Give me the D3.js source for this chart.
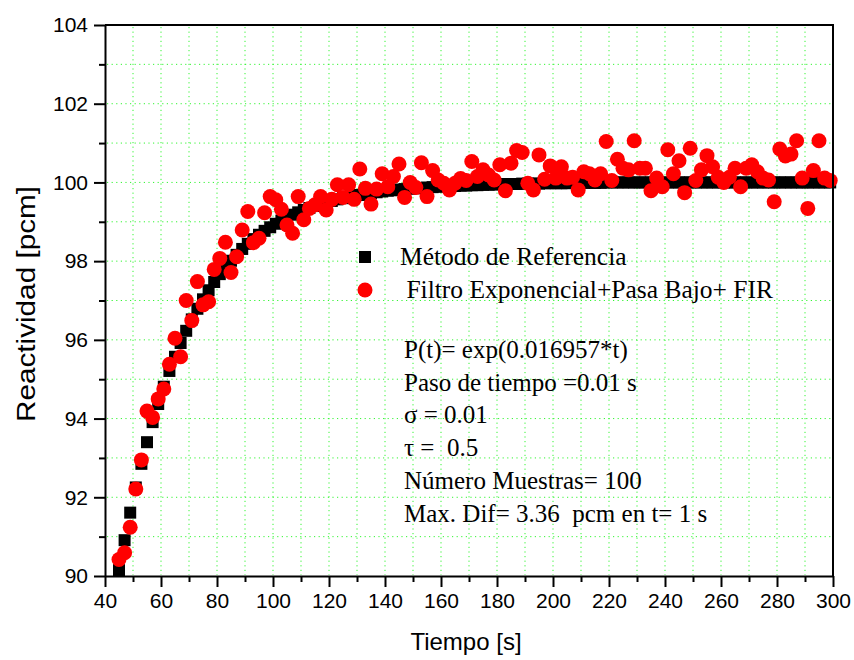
<!DOCTYPE html>
<html>
<head>
<meta charset="utf-8">
<script src="https://cdn.jsdelivr.net/npm/d3@7"></script>
<style>
  html, body { margin: 0; padding: 0; background: #fff; }
  svg { display: block; }
  .serif { font-family: "Liberation Serif", "Times New Roman", serif; white-space: pre; }
  .sans { font-family: "Liberation Sans", Arial, sans-serif; }
</style>
</head>
<body>
<svg id="chart" width="854" height="660"></svg>
<script>
// Sample times [s]
const tiempo = [45,47,49,51,53,55,57,59,61,63,65,67,69,71,73,75,77,79,81,83,85,87,89,91,93,95,97,99,
  101,103,105,107,109,111,113,115,117,119,121,123,125,127,129,131,133,135,137,139,141,143,145,147,149,
  151,153,155,157,159,161,163,165,167,169,171,173,175,177,179,181,183,185,187,189,191,193,195,197,199,
  201,203,205,207,209,211,213,215,217,219,221,223,225,227,229,231,233,235,237,239,241,243,245,247,249,
  251,253,255,257,259,261,263,265,267,269,271,273,275,277,279,281,283,285,287,289,291,293,295,297,299];

// Reactivity from the reference method [pcm]
const referencia = [90.15,90.91,91.61,92.25,92.85,93.40,93.91,94.37,94.81,95.21,95.57,95.92,96.23,96.52,
  96.79,97.03,97.26,97.47,97.67,97.85,98.01,98.16,98.31,98.44,98.56,98.67,98.77,98.86,98.95,99.03,99.11,
  99.18,99.24,99.30,99.35,99.40,99.45,99.49,99.53,99.57,99.60,99.63,99.66,99.68,99.71,99.73,99.75,99.77,
  99.79,99.80,99.82,99.83,99.84,99.85,99.86,99.87,99.88,99.89,99.90,99.90,99.91,99.92,99.92,99.93,99.93,
  99.94,99.94,99.95,99.95,99.96,99.96,99.96,99.97,99.97,99.97,99.97,99.98,99.98,99.98,99.98,99.98,99.99,
  99.99,99.99,99.99,99.99,99.99,
  100,100,100,100,100,100,100,100,100,100,100,100,100,100,100,100,100,100,100,100,100,
  100,100,100,100,100,100,100,100,100,100,100,100,100,100,100,100,100,100,100,100];

// Reactivity from exponential + low-pass + FIR filtering [pcm]
const filtrado = [90.42,90.59,91.24,92.21,92.95,94.19,94.03,94.50,94.75,95.38,96.04,95.57,97.00,96.49,
  97.48,96.89,96.97,97.79,98.07,98.48,97.71,98.11,98.79,99.26,98.47,98.58,99.23,99.64,99.56,99.32,98.92,
  98.71,99.64,99.05,99.34,99.43,99.64,99.30,99.57,99.94,99.62,99.94,99.57,100.34,99.85,99.45,99.83,100.22,
  99.89,100.15,100.47,99.62,100.00,99.87,100.50,99.64,100.30,100.06,99.98,99.81,99.98,100.10,100.05,100.53,
  100.15,100.32,100.19,100.06,100.45,99.79,100.49,100.81,100.76,99.98,99.81,100.70,100.08,100.42,100.11,
  100.40,100.11,100.13,99.81,100.27,100.22,100.06,100.22,101.04,100.05,100.59,100.36,100.32,101.06,100.36,
  100.36,99.79,100.11,99.89,100.83,100.22,100.55,99.74,100.87,100.05,100.32,100.68,100.40,100.13,100.00,
  100.13,100.36,99.89,100.36,100.45,100.27,100.11,100.06,99.51,100.85,100.67,100.72,101.06,100.11,99.34,
  100.30,101.06,100.11,100.05];

const xMajor = [40,60,80,100,120,140,160,180,200,220,240,260,280,300];
const xMinor = [50,70,90,110,130,150,170,190,210,230,250,270,290];
const yMajor = [90,92,94,96,98,100,102,104];
const yMinor = [91,93,95,97,99,101,103];

const serieNombres = ["Método de Referencia", "Filtro Exponencial+Pasa Bajo+ FIR"];
const notas = [
  "P(t)= exp(0.016957*t)",
  "Paso de tiempo =0.01 s",
  "σ = 0.01",
  "τ =  0.5",
  "Número Muestras= 100",
  "Max. Dif= 3.36  pcm en t= 1 s"
];

const svg = d3.select("#chart");
const L = 105, R = 833, T = 25, B = 576;
const x = d3.scaleLinear().domain([40, 300]).range([L, R]);
const y = d3.scaleLinear().domain([90, 104]).range([B, T]);

// dotted grid at every major and minor tick
const grid = svg.append("g").attr("stroke", "#33f533").attr("stroke-width", 1)
  .attr("stroke-dasharray", "1.2,3.4");
grid.selectAll("line.v").data(xMajor.concat(xMinor).filter(v => v > 40 && v < 300))
  .join("line").attr("class", "v")
  .attr("x1", d => x(d)).attr("x2", d => x(d)).attr("y1", T + 2).attr("y2", B - 1);
grid.selectAll("line.h").data(yMajor.concat(yMinor).filter(v => v > 90 && v < 104))
  .join("line").attr("class", "h")
  .attr("y1", d => y(d)).attr("y2", d => y(d)).attr("x1", L + 2).attr("x2", R - 1);

// data markers
const pts = tiempo.map((t, i) => ({t, r: referencia[i], f: filtrado[i]}));
const sq = 12;
svg.append("g").selectAll("rect").data(pts).join("rect")
  .attr("x", d => x(d.t) - sq / 2).attr("y", d => y(d.r) - sq / 2)
  .attr("width", sq).attr("height", sq).attr("fill", "#000");
svg.append("g").selectAll("circle").data(pts).join("circle")
  .attr("cx", d => x(d.t)).attr("cy", d => y(d.f)).attr("r", 7.5).attr("fill", "#ff0000");

// frame: top and right edges
svg.append("path").attr("d", `M${L},${T}H${R}V${B}`).attr("fill", "none")
  .attr("stroke", "#000").attr("stroke-width", 2);

function styleAxis(g) {
  g.select(".domain").attr("stroke-width", 2);
  g.selectAll(".tick line").attr("stroke-width", 2);
  g.selectAll("text").attr("class", "sans").attr("font-size", 21).attr("fill", "#000");
}

// bottom axis
svg.append("g").attr("transform", `translate(0,${B})`)
  .call(d3.axisBottom(x).tickValues(xMinor).tickSize(6).tickFormat(""))
  .call(g => { g.select(".domain").remove(); g.selectAll(".tick line").attr("stroke-width", 2); });
svg.append("g").attr("transform", `translate(0,${B})`)
  .call(d3.axisBottom(x).tickValues(xMajor).tickSize(11).tickSizeOuter(0).tickPadding(6).tickFormat(d3.format("d")))
  .call(styleAxis);

// left axis
svg.append("g").attr("transform", `translate(${L},0)`)
  .call(d3.axisLeft(y).tickValues(yMinor).tickSize(6).tickFormat(""))
  .call(g => { g.select(".domain").remove(); g.selectAll(".tick line").attr("stroke-width", 2); });
svg.append("g").attr("transform", `translate(${L},0)`)
  .call(d3.axisLeft(y).tickValues(yMajor).tickSize(11).tickSizeOuter(0).tickPadding(6).tickFormat(d3.format("d")))
  .call(styleAxis);

// axis titles
svg.append("text").attr("class", "sans").attr("font-size", 24)
  .attr("x", 466).attr("y", 650).attr("text-anchor", "middle").text("Tiempo [s]");
svg.append("text").attr("class", "sans").attr("font-size", 25)
  .attr("transform", "translate(35,304) rotate(-90)").attr("text-anchor", "middle")
  .attr("textLength", 236).attr("lengthAdjust", "spacingAndGlyphs")
  .text("Reactividad [pcm]");

// legend
const leg = svg.append("g");
leg.append("rect").attr("x", 365 - 6).attr("y", 257 - 6).attr("width", 12).attr("height", 12).attr("fill", "#000");
leg.append("circle").attr("cx", 365).attr("cy", 290).attr("r", 7.5).attr("fill", "#ff0000");
leg.append("text").attr("class", "serif").attr("font-size", 25.5).attr("x", 400).attr("y", 265).text(serieNombres[0]);
leg.append("text").attr("class", "serif").attr("font-size", 25.5).attr("x", 400).attr("y", 298).text(" " + serieNombres[1]);

// annotation block
svg.append("g").selectAll("text").data(notas).join("text")
  .attr("class", "serif").attr("font-size", 25)
  .attr("x", 404).attr("y", (d, i) => 358 + i * 32.7).text(d => d);
</script>
</body>
</html>
